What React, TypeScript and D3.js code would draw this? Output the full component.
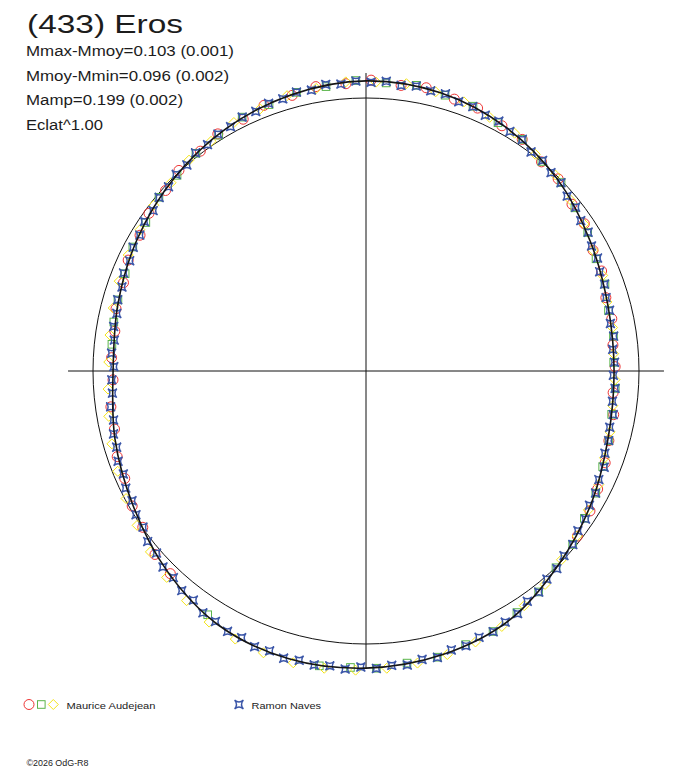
import React from 'react';
import * as d3 from 'd3';

// fit curve, read every 15 deg of phase (0 at top, clockwise), delta mag vs Mmoy
const fitDeg = [0, 15, 30, 45, 60, 75, 90, 105, 120, 135, 150, 165, 180, 195, 210, 225, 240, 255, 270, 285, 300, 315, 330, 345];
const fitMag = [-0.066, -0.058, -0.031, 0.008, 0.057, 0.093, 0.104, 0.091, 0.049, 0.0, -0.056, -0.08, -0.092, -0.095, -0.08, -0.035, 0.016, 0.053, 0.083, 0.066, 0.036, 0.004, -0.027, -0.051];

// Maurice Audejean, three sessions: [phase deg, delta mag]
const audejeanA: [number, number][] = [
  [224, -0.034], [229, -0.026], [235, 0.002], [240, 0.012], [246, 0.036], [251, 0.04], [257, 0.061], [262, 0.063],
  [268, 0.082], [273, 0.075], [279, 0.077], [284, 0.063], [290, 0.061], [295, 0.043], [301, 0.038], [306, 0.019],
  [312, 0.013], [317, -0.005], [323, -0.009], [328, -0.026], [334, -0.028], [339, -0.045], [345, -0.048], [350, -0.061],
  [356, -0.058], [1, -0.069], [7, -0.057], [12, -0.064], [18, -0.05], [23, -0.049], [29, -0.029], [34, -0.025],
  [40, 0.0], [45, 0.005], [51, 0.032], [56, 0.039], [62, 0.065], [67, 0.07], [73, 0.092], [78, 0.09],
  [84, 0.103], [89, 0.099], [95, 0.104], [100, 0.089], [106, 0.084], [111, 0.069], [117, 0.053], [122, 0.036], [128, 0.019],
];
const audejeanB: [number, number][] = [
  [276, 0.072], [281, 0.066], [286, 0.061], [292, 0.054], [298, 0.036], [304, 0.03], [310, 0.011], [316, 0.004],
  [322, -0.013], [328, -0.02], [334, -0.037], [340, -0.041], [346, -0.055], [352, -0.055], [358, -0.068], [4, -0.061],
  [10, -0.066], [16, -0.054], [22, -0.049], [28, -0.032], [34, -0.025], [40, -0.002], [46, 0.007], [52, 0.032],
  [58, 0.047], [64, 0.07], [70, 0.077], [76, 0.096], [82, 0.096], [88, 0.105], [94, 0.096], [100, 0.098],
  [106, 0.084], [112, 0.073], [118, 0.052], [124, 0.039], [130, 0.013], [136, -0.002], [142, -0.029], [148, -0.046],
  [154, -0.065], [160, -0.07], [166, -0.084], [172, -0.084], [178, -0.093], [183, -0.091], [189, -0.097], [213, -0.068],
];
const audejeanC: [number, number][] = [
  [2, -0.062], [8, -0.066], [14, -0.057], [20, -0.052], [26, -0.036], [32, -0.029], [38, -0.008], [44, 0.002],
  [50, 0.026], [56, 0.041], [62, 0.065], [68, 0.073], [74, 0.093], [80, 0.094], [86, 0.103], [92, 0.099],
  [98, 0.099], [104, 0.089], [110, 0.079], [116, 0.057], [122, 0.044], [128, 0.02], [134, 0.005], [140, -0.022],
  [146, -0.039], [152, -0.063], [158, -0.074], [164, -0.084], [170, -0.09], [176, -0.095], [182, -0.1], [188, -0.103],
  [194, -0.105], [200, -0.102], [206, -0.096], [212, -0.088], [218, -0.071], [224, -0.054], [230, -0.033], [236, -0.012],
  [242, 0.005], [248, 0.021], [254, 0.035], [260, 0.048], [266, 0.059], [272, 0.064], [278, 0.059], [284, 0.051],
  [290, 0.042], [296, 0.034], [302, 0.026], [308, 0.015], [314, 0.008], [320, -0.009], [326, -0.016], [332, -0.033],
  [338, -0.038], [344, -0.052], [350, -0.054], [356, -0.065],
];
// Ramon Naves
const naves: [number, number][] = [
  [1, -0.061], [4, -0.067], [7, -0.057], [10, -0.063], [13, -0.056], [16, -0.059], [19, -0.046], [22, -0.047],
  [25, -0.036], [28, -0.039], [31, -0.025], [34, -0.025], [37, -0.005], [40, -0.007], [43, 0.007], [46, 0.008],
  [49, 0.026], [52, 0.028], [55, 0.044], [58, 0.045], [61, 0.062], [64, 0.063], [67, 0.079], [70, 0.079],
  [73, 0.091], [76, 0.091], [79, 0.1], [82, 0.095], [85, 0.106], [88, 0.101], [91, 0.107], [94, 0.097],
  [97, 0.103], [100, 0.091], [103, 0.095], [106, 0.085], [109, 0.084], [112, 0.066], [115, 0.066], [118, 0.053],
  [121, 0.05], [124, 0.033], [127, 0.031], [130, 0.012], [133, 0.009], [136, -0.007], [139, -0.011], [142, -0.03],
  [145, -0.032], [148, -0.051], [151, -0.055], [154, -0.066], [157, -0.063], [160, -0.075], [163, -0.072], [166, -0.085],
  [169, -0.08], [172, -0.091], [175, -0.086], [178, -0.094], [181, -0.088], [184, -0.098], [187, -0.092], [190, -0.097],
  [193, -0.091], [196, -0.098], [199, -0.088], [202, -0.093], [205, -0.081], [208, -0.084], [211, -0.074], [214, -0.072],
  [217, -0.054], [220, -0.053], [223, -0.037], [226, -0.036], [229, -0.018], [232, -0.016], [235, 0.003], [238, 0.007],
  [241, 0.022], [244, 0.023], [247, 0.038], [250, 0.037], [253, 0.05], [256, 0.052], [259, 0.065], [262, 0.062],
  [265, 0.076], [268, 0.077], [271, 0.086], [274, 0.074], [277, 0.08], [280, 0.069], [283, 0.071], [286, 0.06],
  [289, 0.061], [292, 0.047], [295, 0.05], [298, 0.038], [301, 0.037], [304, 0.023], [307, 0.026], [310, 0.012],
  [313, 0.012], [316, -0.001], [319, 0.0], [322, -0.015], [325, -0.013], [328, -0.025], [331, -0.025], [334, -0.037],
  [337, -0.035], [340, -0.046], [343, -0.045], [346, -0.056], [349, -0.051], [352, -0.063], [355, -0.058], [358, -0.066],
];

const title = '(433) Eros';
const statLines = ['Mmax-Mmoy=0.103 (0.001)', 'Mmoy-Mmin=0.096 (0.002)', 'Mamp=0.199 (0.002)', 'Eclat^1.00'];
const observers = ['Maurice Audejean', 'Ramon Naves'];
const credit = '\u00a92026 OdG-R8';

const FONT = '"Liberation Sans", Arial, sans-serif';
const RED = '#ee3535';
const GREEN = '#5ab54a';
const YELLOW = '#f4e416';
const BLUE = '#3b56a8';

const flux = (m: number) => Math.pow(10, -0.4 * m);

// four pointed marker with hollow, concave sides (Naves)
function starPath(s: number) {
  const k = s * 0.15;
  return `M${-s},${-s}Q0,${-k} ${s},${-s}Q${k},0 ${s},${s}Q0,${k} ${-s},${s}Q${-k},0 ${-s},${-s}Z`;
}

function Marker({ kind, x, y }: { kind: string; x: number; y: number }) {
  if (kind === 'circle') return <circle cx={x} cy={y} r={5} fill="none" stroke={RED} strokeWidth={1} />;
  if (kind === 'square') return <rect x={x - 3.8} y={y - 3.8} width={7.6} height={7.6} fill="none" stroke={GREEN} strokeWidth={1} />;
  if (kind === 'diamond')
    return <path d={`M${x},${y - 5}L${x + 5},${y}L${x},${y + 5}L${x - 5},${y}Z`} fill="none" stroke={YELLOW} strokeWidth={1} />;
  return <path transform={`translate(${x},${y})`} d={starPath(4.4)} fill="none" stroke={BLUE} strokeWidth={1.4} />;
}

export default function App() {
  const width = 688, height = 768;
  const cx = 366, cy = 371;

  const r = d3.scaleLinear().domain([0, 1]).range([0, 273]);
  const angle = d3.scaleLinear().domain([0, 360]).range([0, 2 * Math.PI]);
  const rMax = r(flux(d3.min(fitMag) as number));

  const fitPath = d3
    .lineRadial<number>()
    .angle((_, i) => angle(fitDeg[i]))
    .radius((d) => r(flux(d)))
    .curve(d3.curveCatmullRomClosed)(fitMag) as string;

  const series: { kind: string; data: [number, number][] }[] = [
    { kind: 'circle', data: audejeanA },
    { kind: 'square', data: audejeanB },
    { kind: 'diamond', data: audejeanC },
    { kind: 'star', data: naves },
  ];

  const statWidths = [208, 203, 157, 77];

  return (
    <svg width={width} height={height} style={{ position: 'absolute', left: 0, top: 0, background: '#fff' }}>
      <rect width={width} height={height} fill="#fff" />
      <text x={27} y={33} fontFamily={FONT} fontSize={25} fill="#1c1c1c" textLength={156} lengthAdjust="spacingAndGlyphs">
        {title}
      </text>
      {statLines.map((s, i) => (
        <text key={s} x={26} y={56 + i * 24.7} fontFamily={FONT} fontSize={14} fill="#1c1c1c"
          textLength={statWidths[i]} lengthAdjust="spacingAndGlyphs">
          {s}
        </text>
      ))}

      <g transform={`translate(${cx},${cy})`}>
        <line x1={-rMax} x2={rMax} y1={0} y2={0} stroke="#111" strokeWidth={1} />
        <line x1={0} x2={0} y1={-rMax} y2={rMax} stroke="#111" strokeWidth={1} />
        <circle r={r(1)} fill="none" stroke="#111" strokeWidth={1} />
        {series.map((s) =>
          s.data.map(([deg, m], i) => {
            const [x, y] = d3.pointRadial(angle(deg), r(flux(m)));
            return <Marker key={s.kind + i} kind={s.kind} x={x} y={y} />;
          })
        )}
        <path d={fitPath} fill="none" stroke="#151515" strokeWidth={1.6} />
      </g>

      <g>
        <Marker kind="circle" x={29} y={704.5} />
        <Marker kind="square" x={41.3} y={704.5} />
        <Marker kind="diamond" x={53.3} y={704.5} />
        <text x={66.5} y={708.5} fontFamily={FONT} fontSize={9.3} fill="#222" textLength={89} lengthAdjust="spacingAndGlyphs">
          {observers[0]}
        </text>
        <Marker kind="star" x={239} y={704.5} />
        <text x={251.5} y={708.5} fontFamily={FONT} fontSize={9.3} fill="#222" textLength={69.5} lengthAdjust="spacingAndGlyphs">
          {observers[1]}
        </text>
      </g>
      <text x={26.5} y={766} fontFamily={FONT} fontSize={8.5} fill="#222" textLength={62} lengthAdjust="spacingAndGlyphs">
        {credit}
      </text>
    </svg>
  );
}
